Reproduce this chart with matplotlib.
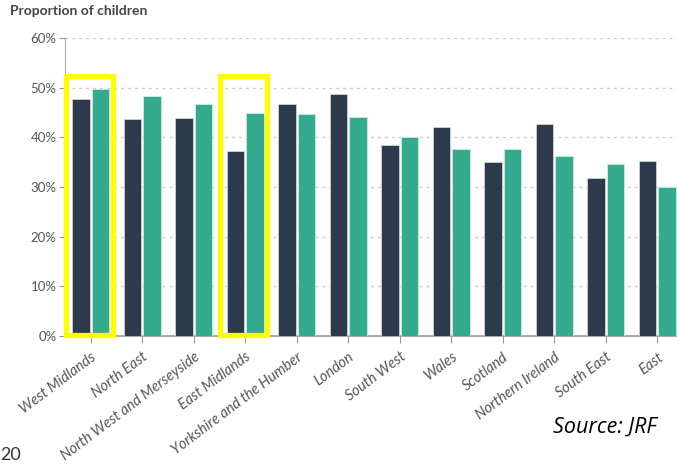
import numpy as np
import matplotlib.pyplot as plt
from matplotlib.patches import Rectangle

# Datos
regions = ["West Midlands", "North East", "North West and Merseyside", "East Midlands",
           "Yorkshire and the Humber", "London", "South West", "Wales", "Scotland",
           "Northern Ireland", "South East", "East"]
dark_vals = [47.7, 43.7, 43.8, 37.2, 46.8, 48.7, 38.5, 42.1, 35.1, 42.7, 31.8, 35.3]
green_vals = [49.7, 48.3, 46.8, 45.0, 44.6, 44.1, 40.1, 37.7, 37.6, 36.2, 34.6, 30.1]
highlighted = ["West Midlands", "East Midlands"]
yticks = [0, 10, 20, 30, 40, 50, 60]

dark = "#2d3a4b"
green = "#34ab8e"
grey = "#555555"

fig = plt.figure(figsize=(6.77, 4.68), dpi=100)
ax = fig.add_axes([65 / 677, 1 - 336 / 468, 618 / 677, 298 / 468])

x = np.arange(len(regions))
w = 0.345
ax.bar(x - 0.19, dark_vals, w, color=dark, edgecolor="#d0d4d8", linewidth=0.6, zorder=3)
ax.bar(x + 0.19, green_vals, w, color=green, edgecolor="#c8ece2", linewidth=0.6, zorder=3)

# Recuadros amarillos
for name in highlighted:
    i = regions.index(name)
    ax.add_patch(Rectangle((i - 0.49, 0.3), 0.92, 52.0, fill=False,
                           edgecolor="#ffff00", linewidth=3.8, zorder=5, clip_on=False))

ax.set_xlim(-0.5, 11.5)
ax.set_ylim(0, 60)
ax.set_yticks(yticks)
ax.set_yticklabels([f"{v}%" for v in yticks], fontsize=9.5, color=grey, family="Lato")
ax.set_xticks(x)
ax.set_xticklabels(regions, rotation=37, ha="right", rotation_mode="anchor",
                   fontsize=10.5, color=grey, style="italic", family="Lato")
ax.tick_params(axis="x", length=5, color="#999999", pad=5)
ax.tick_params(axis="y", length=4, color="#999999", pad=2)

ax.grid(axis="y", color="#cccccc", linestyle=(0, (2, 3)), linewidth=1, zorder=0)
for s in ["top", "right"]:
    ax.spines[s].set_visible(False)
ax.spines["left"].set_color("#aaaaaa")
ax.spines["bottom"].set_color("#999999")
ax.spines["bottom"].set_linewidth(1.2)

fig.text(10 / 677, 1 - 11 / 468, "Proportion of children", fontsize=10, fontweight="bold",
         color="#444444", family="Lato", va="center", ha="left")
fig.text(553 / 677, 1 - 427 / 468, "Source: JRF", fontsize=15.5, style="italic",
         color="black", family="Open Sans", va="center", ha="left")
fig.text(0, 1 - 455 / 468, "20", fontsize=13, color="#333333",
         family="Lato", va="center", ha="left")

fig.savefig("out.png", dpi=100)
